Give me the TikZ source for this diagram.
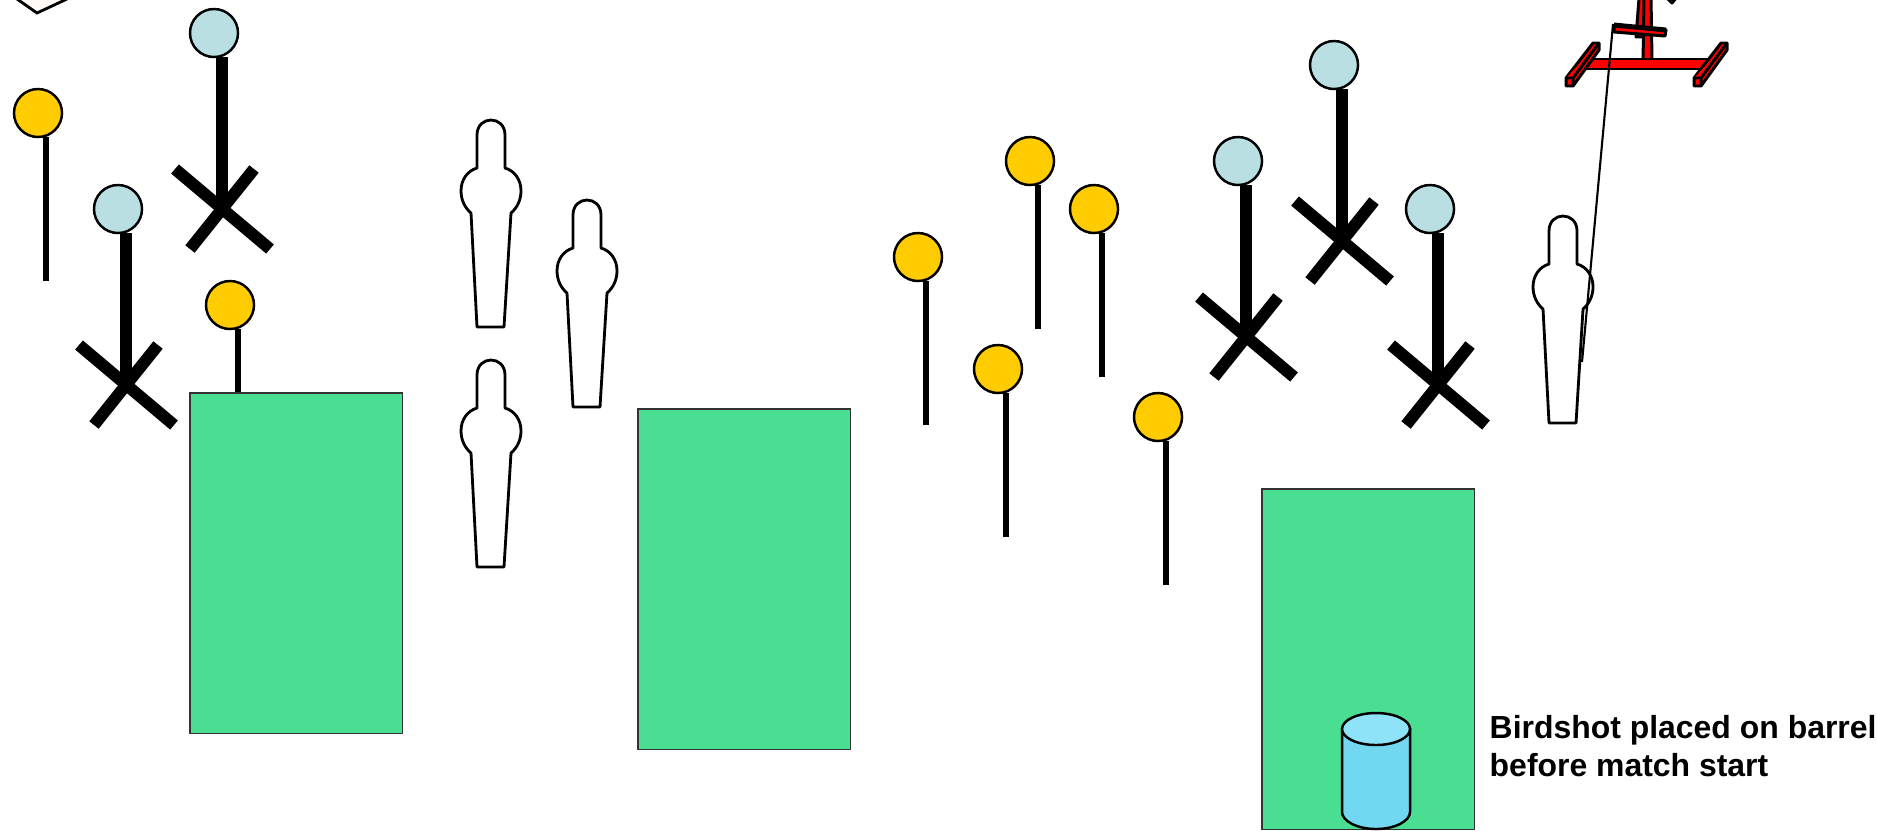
\documentclass[tikz,border=0pt]{standalone}
\usepackage{fontspec}
\setmainfont{Liberation Sans}
\usepackage{tikz}

\tikzset{
	shooter/.pic={
		\draw[draw=black,line width=0.8pt,line join=round]
		(-14,15) .. controls (-14,-5) and (14,-5) .. (14,15) -- (14,48)
		.. controls (24,51) and (30,60) .. (30,71)
		.. controls (30,80) and (26,88) .. (20,93) -- (13,207) -- (-14,207) -- (-20,93)
		.. controls (-26,88) and (-30,80) .. (-30,71)
		.. controls (-30,60) and (-24,51) .. (-14,48) -- cycle;
	},
	crossarms/.pic={
		\draw[line width=3.4pt,draw=black] (-47,-39) -- (48,41);
		\draw[line width=3.4pt,draw=black] (32,-39) -- (-32,41);
	},
	railfoot/.pic={
		\draw[redpart] (0,0) -- (27,-35) -- (33,-35) -- (33,-28) -- (7,8) -- (0,8) -- cycle;
		\draw[redpart] (0,0) -- (7,0) -- (33,-35) (7,0) -- (7,8);
	},
	redpart/.style={fill=red,draw=black,line width=0.85pt,line join=round}
}

\begin{document}
\begin{tikzpicture}[x=0.01cm,y=-0.01cm,>=latex]
	\tikzstyle{popper}=[circle,draw=black,line width=0.7pt,
	minimum size=0.48cm,
	inner sep=0pt,outer sep=0pt
	]
	\tikzstyle{gold}=[popper, fill={rgb,255:red,255;green,204;blue,0}];
	\tikzstyle{pale}=[popper, fill={rgb,255:red,185;green,223;blue,227}];
	\tikzstyle{stem}=[draw=black,line width=1.55pt];
	\tikzstyle{heavy}=[draw=black,line width=3.4pt];
	\tikzstyle{wall}=[draw=black!80,line width=0.45pt,fill={rgb,255:red,74;green,222;blue,147},
	anchor=north west,minimum width=2.125cm,minimum height=3.405cm,inner sep=0pt];

\useasboundingbox (0,0) rectangle (1877,830);
\clip (0,0) rectangle (1877,830);

% box at the far corner
\draw[draw=black,line width=0.8pt,fill=orange!4] (17,-1) -- (37,13) -- (67,-1);

% small plates
\node[gold](y1) at (38,113){};
\node[gold](y2) at (230,305){};
\node[gold](y3) at (1030,161){};
\node[gold](y4) at (1094,209){};
\node[gold](y5) at (918,257){};
\node[gold](y6) at (998,369){};
\node[gold](y7) at (1158,417){};
\draw[stem] ([xshift=0.08cm]y1.south) -- ++(0,144);
\draw[stem] ([xshift=0.08cm]y2.south) -- ++(0,144);
\draw[stem] ([xshift=0.08cm]y3.south) -- ++(0,144);
\draw[stem] ([xshift=0.08cm]y4.south) -- ++(0,144);
\draw[stem] ([xshift=0.08cm]y5.south) -- ++(0,144);
\draw[stem] ([xshift=0.08cm]y6.south) -- ++(0,144);
\draw[stem] ([xshift=0.08cm]y7.south) -- ++(0,144);

% big plates
\node[pale](b1) at (214,33){};
\node[pale](b2) at (118,209){};
\node[pale](b3) at (1334,65){};
\node[pale](b4) at (1238,161){};
\node[pale](b5) at (1430,209){};
\draw[heavy] ([xshift=0.08cm]b1.south) -- ++(0,151) coordinate (x1);
\draw[heavy] ([xshift=0.08cm]b2.south) -- ++(0,151) coordinate (x2);
\draw[heavy] ([xshift=0.08cm]b3.south) -- ++(0,151) coordinate (x3);
\draw[heavy] ([xshift=0.08cm]b4.south) -- ++(0,151) coordinate (x4);
\draw[heavy] ([xshift=0.08cm]b5.south) -- ++(0,151) coordinate (x5);
\path (x1) pic {crossarms};
\path (x2) pic {crossarms};
\path (x3) pic {crossarms};
\path (x4) pic {crossarms};
\path (x5) pic {crossarms};

% paper targets
\path (491,120) pic {shooter};
\path (587,200) pic {shooter};
\path (491,360) pic {shooter};
\path (1563,216) pic {shooter};

% walls
\node[wall](w1) at (189,392){};
\node[wall](w2) at (637,408){};
\node[wall](w3) at (1261,488){};

% barrel
\draw[draw=black,line width=0.7pt,fill={rgb,255:red,114;green,216;blue,242}]
(1342,729) -- (1342,812) .. controls (1342,821) and (1357,829) .. (1376,829)
.. controls (1395,829) and (1410,821) .. (1410,812) -- (1410,729) -- cycle;
\draw[draw=black,line width=0.7pt,fill={rgb,255:red,143;green,227;blue,248}]
(1376,729) ellipse [x radius=34,y radius=16];

% red stand
\draw[redpart] (1636,37) -- (1639,-2) -- (1648,-2) -- (1645,37) -- cycle;
\draw[redpart] (1643,61) -- (1644,-2) -- (1651,-2) -- (1652,61) -- cycle;
\draw[redpart] (1584,59) rectangle (1708,69);
\path (1566,78) pic {railfoot};
\path (1694,78) pic {railfoot};
\draw[redpart] (1614,26) -- (1666,30) -- (1665,36) -- (1614,32) -- cycle;
\draw[draw=black,line width=1.4pt] (1614,25) -- (1666,30);
\draw[redpart] (1667,-2) -- (1672,3) -- (1676,-2);
\draw[draw=black,line width=0.6pt] (1613,24) -- (1582,362);

\node[anchor=north west,align=left,inner sep=0pt,font=\fontsize{9.08pt}{10.8pt}\bfseries\selectfont](note) at (1489,715){Birdshot placed on barrel\\before match start};

\end{tikzpicture}
\end{document}
